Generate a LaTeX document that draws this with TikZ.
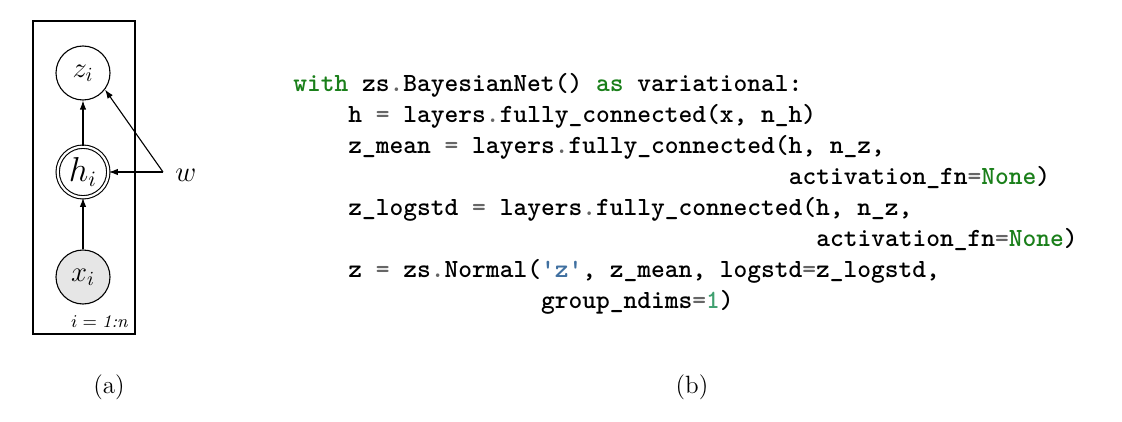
\documentclass[tikz,border=0pt]{standalone}
\usetikzlibrary{arrows.meta}
\definecolor{kwgreen}{HTML}{1A7F1A}
\definecolor{opgray}{HTML}{666666}
\definecolor{strblue}{HTML}{4070A0}
\definecolor{numteal}{HTML}{40A070}
\definecolor{obsgray}{HTML}{E6E6E6}
\newcommand\kwd[1]{\textcolor{kwgreen}{#1}}
\newcommand\opr[1]{\textcolor{opgray}{#1}}
\newcommand\strg[1]{\textcolor{strblue}{#1}}
\newcommand\numb[1]{\textcolor{numteal}{#1}}
\begin{document}
\begin{tikzpicture}[x=0.5pt,y=-0.5pt,
  varnode/.style={circle, draw, line width=0.55pt, minimum size=27pt, inner sep=0pt, font=\fontsize{14}{16}\selectfont},
  latent/.style={varnode},
  obs/.style={varnode, fill=obsgray},
  det/.style={varnode, double, double distance=1.1pt, minimum size=25.3pt, font=\fontsize{16}{18}\selectfont},
  arr/.style={line width=0.55pt, -{Latex[length=4.5pt,width=3.2pt]}},
  codeline/.style={anchor=base west, inner sep=0pt, font=\fontsize{13.1}{15.5}\selectfont\ttfamily\bfseries\frenchspacing},
  caption/.style={anchor=base, inner sep=0pt, font=\fontsize{12.5}{14}\selectfont}
]
\useasboundingbox (0,0) rectangle (1122,422);

% ---- (a) graphical model ----
\node[draw, line width=0.55pt, minimum width=51pt, minimum height=156.5pt, inner sep=0pt] (plate) at (84,177.5) {};
\node[latent] (z) at (83,73) {$z_i$};
\node[det] (h) at (83,172) {$h_i$};
\node[obs] (x) at (83,277) {$x_i$};
\node[anchor=base east, inner sep=0pt, font=\fontsize{9}{10}\selectfont] (plab) at (128,327) {$i = \textit{1:n}$};
\coordinate (wc) at (163,172);
\node[anchor=west, inner sep=0pt, font=\fontsize{15}{17}\selectfont] (w) at (175,175) {$w$};
\draw[arr] (x) -- (h);
\draw[arr] (h) -- (z);
\draw[arr] (wc) -- (h);
\draw[arr] (wc) -- (z.-37);
\node[caption] (capa) at (109,393) {(a)};

% ---- (b) code ----
\def\cw{13.76}
\def\xs{293}
\node[codeline] (l1) at (\xs,92) {\kwd{with} zs\opr{.}BayesianNet() \kwd{as} variational:};
\node[codeline] (l2) at (\xs+4*\cw,123) {h \opr{=} layers\opr{.}fully\_connected(x, n\_h)};
\node[codeline] (l3) at (\xs+4*\cw,153.9) {z\_mean \opr{=} layers\opr{.}fully\_connected(h, n\_z,};
\node[codeline] (l4) at (\xs+36*\cw,184.8) {activation\_fn\opr{=}\kwd{None})};
\node[codeline] (l5) at (\xs+4*\cw,215.7) {z\_logstd \opr{=} layers\opr{.}fully\_connected(h, n\_z,};
\node[codeline] (l6) at (\xs+38*\cw,246.6) {activation\_fn\opr{=}\kwd{None})};
\node[codeline] (l7) at (\xs+4*\cw,277.5) {z \opr{=} zs\opr{.}Normal(\strg{\textquotesingle z\textquotesingle}, z\_mean, logstd\opr{=}z\_logstd,};
\node[codeline] (l8) at (\xs+18*\cw,308.4) {group\_ndims\opr{=}\numb{1})};
\node[caption] (capb) at (692,393) {(b)};
\end{tikzpicture}
\end{document}
